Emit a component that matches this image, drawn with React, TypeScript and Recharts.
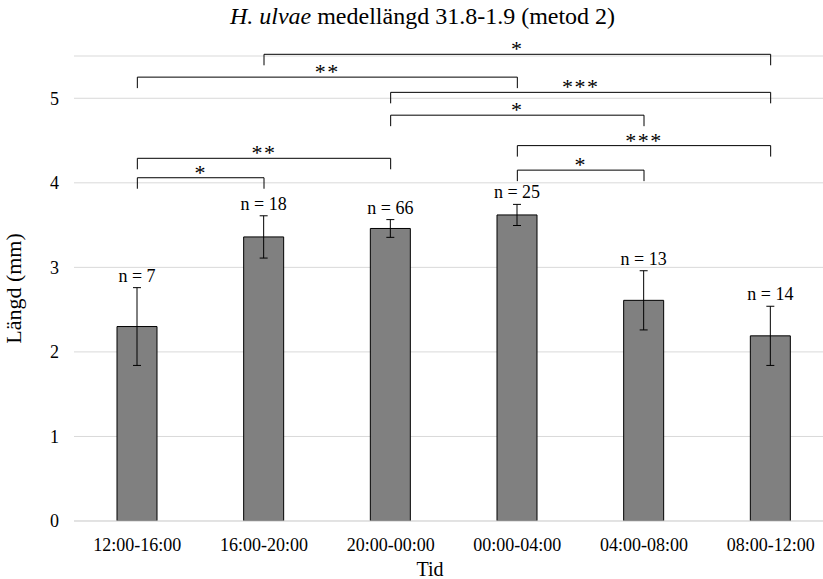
import React from "react";
import {
  BarChart,
  Bar,
  XAxis,
  YAxis,
  CartesianGrid,
  ErrorBar,
  LabelList,
  ReferenceLine,
} from "recharts";

const categories = [
  "12:00-16:00",
  "16:00-20:00",
  "20:00-00:00",
  "00:00-04:00",
  "04:00-08:00",
  "08:00-12:00",
];
const means = [2.3, 3.36, 3.46, 3.62, 2.61, 2.19];
const errors = [0.46, 0.25, 0.105, 0.125, 0.35, 0.35];
const counts = [7, 18, 66, 25, 13, 14];
const yTicks = [0, 1, 2, 3, 4, 5];

// significance brackets (category index from/to, height in mm, stars)
const bracketFrom = [1, 0, 2, 2, 3, 0, 0, 3];
const bracketTo = [5, 3, 5, 4, 5, 2, 1, 4];
const bracketLevel = [5.52, 5.25, 5.07, 4.8, 4.44, 4.29, 4.06, 4.15];
const bracketStars = ["*", "**", "***", "*", "***", "**", "*", "*"];
const dropLen = 0.13;

const FONT = "Times New Roman, Liberation Serif, Tinos, DejaVu Serif, serif";

const data = categories.map((c, i) => ({
  tid: c,
  mean: means[i],
  err: errors[i],
}));

const NLabel = (props: any) => {
  const { x, y, width, height, index } = props;
  const pxPerUnit = height / means[index];
  const top = y - errors[index] * pxPerUnit;
  return (
    <text
      x={x + width / 2}
      y={top - 6}
      textAnchor="middle"
      fontFamily={FONT}
      fontSize={18}
      fill="#000"
    >
      {`n = ${counts[index]}`}
    </text>
  );
};

export default function App() {
  return (
    <div
      style={{
        position: "absolute",
        left: 0,
        top: 0,
        width: 823,
        height: 579,
        overflow: "hidden",
        background: "#fff",
      }}
    >
      <div
        style={{
          position: "absolute",
          top: 3,
          left: 0,
          width: 845,
          textAlign: "center",
          fontFamily: FONT,
          fontSize: 24,
          color: "#000",
        }}
      >
        <i>H. ulvae</i> medellängd 31.8-1.9 (metod 2)
      </div>
      <BarChart
        width={834}
        height={579}
        data={data}
        margin={{ top: 56, right: 0, left: 0, bottom: 0 }}
      >
        <CartesianGrid vertical={false} stroke="#d9d9d9" />
        <XAxis
          dataKey="tid"
          height={58}
          tickLine={false}
          axisLine={{ stroke: "#d9d9d9" }}
          tick={{ fill: "#000", fontFamily: FONT, fontSize: 18 }}
          tickMargin={11}
          label={{
            value: "Tid",
            position: "insideBottom",
            dx: -24,
            offset: 3,
            fill: "#000",
            fontFamily: FONT,
            fontSize: 20,
          }}
        />
        <YAxis
          width={74}
          domain={[0, 5.5]}
          ticks={yTicks}
          allowDataOverflow
          axisLine={false}
          tickLine={false}
          tickMargin={9}
          tick={{ fill: "#000", fontFamily: FONT, fontSize: 18 }}
          label={{
            value: "Längd (mm)",
            angle: -90,
            position: "insideLeft",
            offset: 13,
            style: { textAnchor: "middle" },
            fill: "#000",
            fontFamily: FONT,
            fontSize: 22,
          }}
        />
        <Bar
          dataKey="mean"
          fill="#808080"
          stroke="#000"
          strokeWidth={1}
          barSize={40}
          isAnimationActive={false}
        >
          <ErrorBar dataKey="err" width={4} stroke="#000" strokeWidth={1} />
          <LabelList dataKey="mean" content={<NLabel />} />
        </Bar>
        {bracketFrom.map((f, i) => {
          const a = categories[f];
          const b = categories[bracketTo[i]];
          const lv = bracketLevel[i];
          return [
            <ReferenceLine
              key={`h${i}`}
              ifOverflow="visible"
              stroke="#000"
              segment={[
                { x: a, y: lv },
                { x: b, y: lv },
              ]}
              label={{
                value: bracketStars[i],
                position: "top",
                offset: -2,
                fill: "#000",
                fontFamily: FONT,
                fontSize: 22,
                letterSpacing: 1.5,
              }}
            />,
            <ReferenceLine
              key={`l${i}`}
              ifOverflow="visible"
              stroke="#000"
              segment={[
                { x: a, y: lv },
                { x: a, y: lv - dropLen },
              ]}
            />,
            <ReferenceLine
              key={`r${i}`}
              ifOverflow="visible"
              stroke="#000"
              segment={[
                { x: b, y: lv },
                { x: b, y: lv - dropLen },
              ]}
            />,
          ];
        })}
      </BarChart>
    </div>
  );
}
